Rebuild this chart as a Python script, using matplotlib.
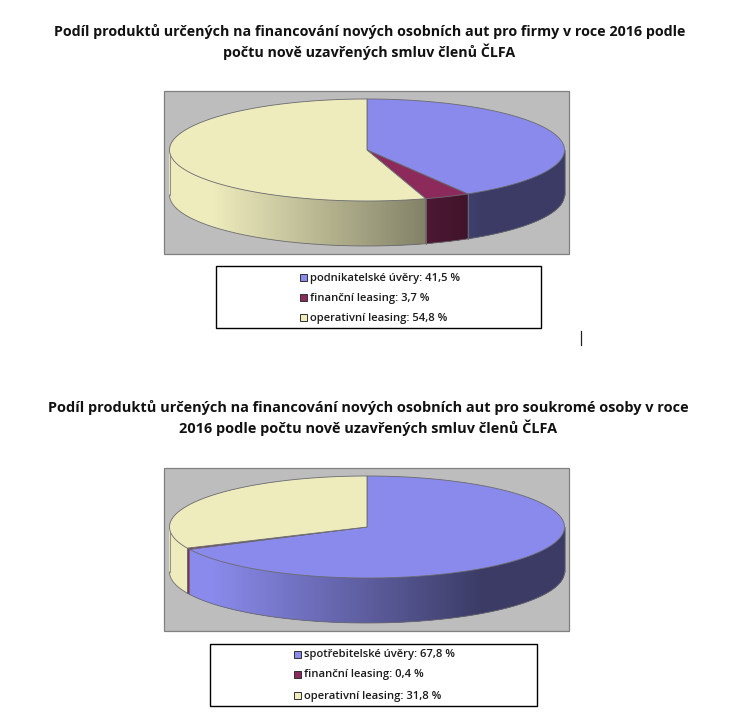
import numpy as np
import matplotlib
matplotlib.use('Agg')
import matplotlib.pyplot as plt
from matplotlib.patches import Rectangle

title_top = 'Podíl produktů určených na financování nových osobních aut pro firmy v roce 2016 podle\npočtu nově uzavřených smluv členů ČLFA'
labels_top = ['podnikatelské úvěry', 'finanční leasing', 'operativní leasing']
values_top = [41.5, 3.7, 54.8]

title_bottom = 'Podíl produktů určených na financování nových osobních aut pro soukromé osoby v roce\n2016 podle počtu nově uzavřených smluv členů ČLFA'
labels_bottom = ['spotřebitelské úvěry', 'finanční leasing', 'operativní leasing']
values_bottom = [67.8, 0.4, 31.8]

slice_colors = ['#8a8aec', '#8c2a5c', '#eeecbc']

WIDTH = 730
HEIGHT = 721
RADIUS_X = 197.5
RADIUS_Y = 51
DEPTH = 45

plt.rcParams['font.family'] = ['Open Sans', 'DejaVu Sans']

def sideShade(x_pos, center_x):
    # side wall darkens from left to right like the excel 3d pie
    rel = (x_pos - (center_x - 155)) / 270.0
    rel = min(max(rel, 0), 1)
    return 1 - 0.57 * rel

def drawSide(ax, center_x, center_y, start, stop, color):
    rgb = np.array(matplotlib.colors.to_rgb(color))
    # only the front half of the rim is visible
    start = max(start, 90)
    stop = min(stop, 270)
    if stop <= start:
        return
    angles = np.radians(np.arange(start, stop + 0.5, 0.5))
    angles[-1] = np.radians(stop)
    xs = center_x + RADIUS_X * np.sin(angles)
    ys = center_y - RADIUS_Y * np.cos(angles)
    # strips overlap the next ones so no seams show between them
    for i in range(len(angles) - 1):
        j = min(i + 4, len(angles) - 1)
        shade = sideShade((xs[i] + xs[i + 1]) / 2, center_x)
        ax.fill(np.r_[xs[i:j + 1], xs[i:j + 1][::-1]],
                np.r_[ys[i:j + 1], ys[i:j + 1][::-1] + DEPTH],
                color=rgb * shade, lw=0, zorder=3)
    outline = '#6a6a70'
    ax.plot(xs, ys + DEPTH, color=outline, lw=0.6, zorder=4)
    ax.plot([xs[0], xs[0]], [ys[0], ys[0] + DEPTH], color=outline, lw=0.5, zorder=4)
    ax.plot([xs[-1], xs[-1]], [ys[-1], ys[-1] + DEPTH], color=outline, lw=0.5, zorder=4)

def drawTop(ax, center_x, center_y, start, stop, color):
    angles = np.radians(np.linspace(start, stop, 300))
    xs = center_x + RADIUS_X * np.sin(angles)
    ys = center_y - RADIUS_Y * np.cos(angles)
    ax.fill(np.r_[center_x, xs], np.r_[center_y, ys], facecolor=color,
            edgecolor='#6a6a70', lw=0.6, zorder=5)

def drawPie(ax, box, center, values):
    ax.add_patch(Rectangle((box[0], box[1]), box[2], box[3], facecolor='#bdbdbd',
                           edgecolor='#808080', lw=0.9, zorder=1))
    edges = np.r_[0, np.cumsum(values)] / np.sum(values) * 360
    for i, color in enumerate(slice_colors):
        drawSide(ax, center[0], center[1], edges[i], edges[i + 1], color)
    for i, color in enumerate(slice_colors):
        drawTop(ax, center[0], center[1], edges[i], edges[i + 1], color)

def drawLegend(ax, box, marker_x, rows_y, labels, values):
    ax.add_patch(Rectangle((box[0], box[1]), box[2], box[3], facecolor='white',
                           edgecolor='black', lw=1.0, zorder=1))
    for row_y, label, value, color in zip(rows_y, labels, values, slice_colors):
        ax.add_patch(Rectangle((marker_x, row_y - 3.5), 7, 7, facecolor=color,
                               edgecolor='#303030', lw=0.7, zorder=2))
        text = '%s: %s %%' % (label, str(value).replace('.', ','))
        ax.text(marker_x + 10, row_y + 1, text, fontsize=8.1, fontweight='semibold',
                color='#1a1a1a', ha='left', va='center', zorder=3)

def main():

    fig = plt.figure(figsize=(WIDTH / 100, HEIGHT / 100), dpi=100)
    ax = fig.add_axes([0, 0, 1, 1])
    ax.set_xlim(0, WIDTH)
    ax.set_ylim(HEIGHT, 0)
    ax.axis('off')

    ax.text(369.5, 42, title_top, fontsize=10.3, fontweight='bold', ha='center',
            va='center', linespacing=1.4, color='#111111')
    drawPie(ax, (164, 91, 405, 163), (367, 150), values_top)
    drawLegend(ax, (215.5, 265.5, 325, 62), 300, [277, 297, 317], labels_top, values_top)

    ax.plot([581, 581], [331, 345], color='#222222', lw=0.9)

    ax.text(368, 418, title_bottom, fontsize=10.45, fontweight='bold', ha='center',
            va='center', linespacing=1.4, color='#111111')
    drawPie(ax, (164, 468, 405, 163), (367, 527), values_bottom)
    drawLegend(ax, (209.5, 643.5, 327, 62), 294, [654, 674, 695], labels_bottom, values_bottom)

    fig.savefig('out.png', dpi=100)

if __name__ == '__main__':
    main()
